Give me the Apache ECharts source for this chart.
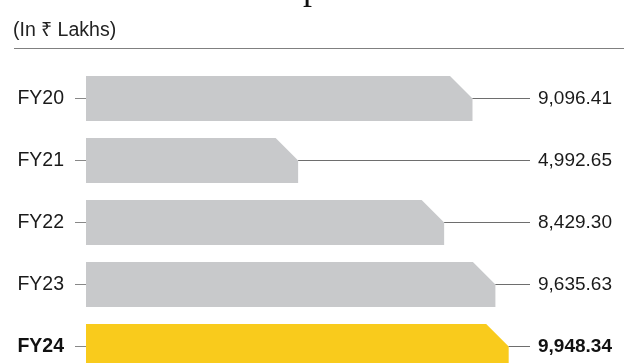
<!DOCTYPE html>
<html>
<head>
<meta charset="utf-8">
<script src="https://cdn.jsdelivr.net/npm/echarts@6/dist/echarts.min.js"></script>
<style>
html,body{margin:0;padding:0;background:#fff;}
#chart{width:624px;height:363px;}
</style>
</head>
<body>
<div id="chart"></div>
<script>
const categories = ['FY20', 'FY21', 'FY22', 'FY23', 'FY24'];
const values = [9096.41, 4992.65, 8429.30, 9635.63, 9948.34];
const highlight = 'FY24';
const unitLabel = '(In ₹ Lakhs)';

const X_MAX = 10450;
const FONT = '"Liberation Sans", Arial, sans-serif';

const chart = echarts.init(document.getElementById('chart'));
const data = categories.map((c, i) => [values[i], c]);

chart.setOption({
  animation: false,
  backgroundColor: '#fff',
  grid: { left: 86, width: 444, top: 67.5, height: 310, containLabel: false, outerBoundsMode: 'none' },
  xAxis: {
    type: 'value', min: 0, max: X_MAX,
    show: false
  },
  yAxis: {
    type: 'category', data: categories, inverse: true,
    axisLine: { show: false },
    axisTick: { show: true, alignWithLabel: true, length: 11, lineStyle: { color: '#888', width: 1 } },
    axisLabel: {
      margin: 22, fontSize: 19.5, fontFamily: FONT, color: '#1a1a1a',
      formatter: v => v === highlight ? '{b|' + v + '}' : v,
      rich: { b: { fontSize: 19.5, fontFamily: FONT, fontWeight: 'bold', color: '#111' } }
    },
    splitLine: { show: false }
  },
  graphic: [
    { type: 'text', left: 13, top: 21, style: { text: unitLabel, fontSize: 19.5, fontFamily: FONT, fill: '#222' } },
    { type: 'line', shape: { x1: 14, y1: 48.5, x2: 624, y2: 48.5 }, style: { stroke: '#808080', lineWidth: 1 } },
    { type: 'text', x: 312, y: -10.5, style: { text: 'p', fontSize: 36, fontFamily: '"Liberation Serif", serif', fill: '#111', align: 'center', verticalAlign: 'middle' } }
  ],
  series: [{
    type: 'custom',
    clip: false,
    encode: { x: 0, y: 1 },
    data: data,
    renderItem: function (params, api) {
      const val = api.value(0);
      const cat = api.value(1);
      const start = api.coord([0, cat]);
      const end = api.coord([val, cat]);
      const lineEnd = api.coord([X_MAX, cat])[0];
      const h = api.size([0, 1])[1] * 0.726;
      const cy = start[1];
      const top = cy - h / 2, bottom = cy + h / 2;
      const c = h / 2;
      const x0 = start[0], x1 = end[0];
      const isHi = categories[params.dataIndex] === highlight;
      const fill = isHi ? '#F9CB1C' : '#C8C9CB';
      const label = values[params.dataIndex].toLocaleString('en-US', { minimumFractionDigits: 2, maximumFractionDigits: 2 });
      return {
        type: 'group',
        children: [
          { type: 'polygon', shape: { points: [[x0, top], [x1 - c, top], [x1, cy], [x1, bottom], [x0, bottom]] }, style: { fill: fill } },
          { type: 'line', shape: { x1: x1, y1: cy, x2: lineEnd, y2: cy }, style: { stroke: '#6e6e6e', lineWidth: 1 } },
          { type: 'text', x: lineEnd + 8, y: cy, style: { text: label, fontSize: 19, fontFamily: FONT, fontWeight: isHi ? 'bold' : 'normal', fill: isHi ? '#111' : '#1a1a1a', align: 'left', verticalAlign: 'middle' } }
        ]
      };
    }
  }]
});
</script>
</body>
</html>
